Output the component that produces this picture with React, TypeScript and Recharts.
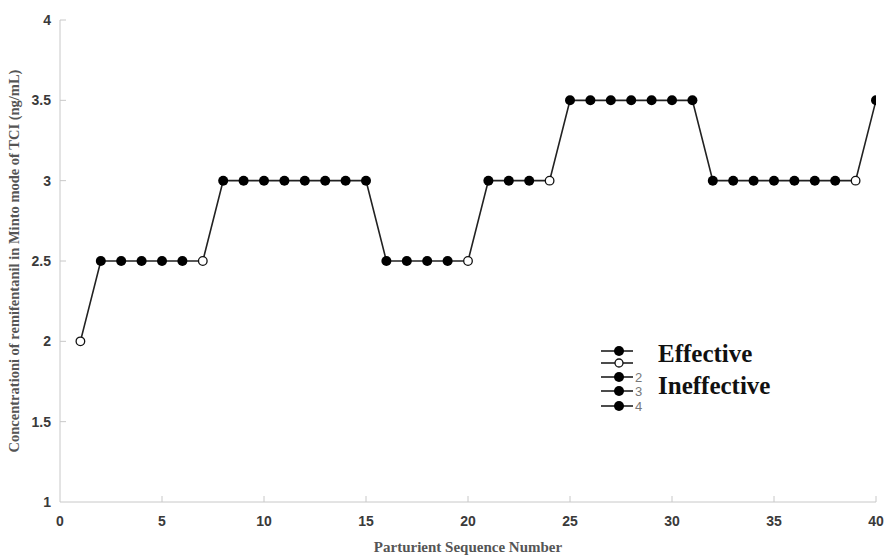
import React from "react";
import { LineChart, Line, XAxis, YAxis } from "recharts";

const sequence = [1,2,3,4,5,6,7,8,9,10,11,12,13,14,15,16,17,18,19,20,21,22,23,24,25,26,27,28,29,30,31,32,33,34,35,36,37,38,39,40];
const concentration = [2.0,2.5,2.5,2.5,2.5,2.5,2.5,3.0,3.0,3.0,3.0,3.0,3.0,3.0,3.0,2.5,2.5,2.5,2.5,2.5,3.0,3.0,3.0,3.0,3.5,3.5,3.5,3.5,3.5,3.5,3.5,3.0,3.0,3.0,3.0,3.0,3.0,3.0,3.0,3.5];
const effective = [false,true,true,true,true,true,false,true,true,true,true,true,true,true,true,true,true,true,true,false,true,true,true,false,true,true,true,true,true,true,true,true,true,true,true,true,true,true,false,true];
const xTicks = [0,5,10,15,20,25,30,35,40];
const yTicks = [1,1.5,2,2.5,3,3.5,4];
const legendLabels = ["Effective", "Ineffective"];
const legendExtra = ["", "", "2", "3", "4"];

const data = sequence.map((s, i) => ({ seq: s, conc: concentration[i], eff: effective[i] }));

const AXIS = "#c8c8c8";
const TICK_TXT = "#3a3a3a";

const XTick = (props: any) => {
  const { x, y, payload } = props;
  return (
    <g>
      {payload.value !== 0 && <line x1={x} y1={y} x2={x} y2={y - 6} stroke={AXIS} strokeWidth={1} />}
      <text x={x} y={y + 24} textAnchor="middle" fontFamily="'Liberation Sans', Arial, sans-serif" fontWeight="bold" fontSize={14} fill={TICK_TXT}>
        {payload.value}
      </text>
    </g>
  );
};

const YTick = (props: any) => {
  const { x, y, payload } = props;
  return (
    <g>
      {payload.value !== 1 && <line x1={x} y1={y} x2={x + 6} y2={y} stroke={AXIS} strokeWidth={1} />}
      <text x={x - 9} y={y + 5} textAnchor="end" fontFamily="'Liberation Sans', Arial, sans-serif" fontWeight="bold" fontSize={14} fill={TICK_TXT}>
        {payload.value}
      </text>
    </g>
  );
};

const Dot = (props: any) => {
  const { cx, cy, payload, index } = props;
  if (payload.eff) {
    return <circle key={`d${index}`} cx={cx} cy={cy} r={5} fill="#000" />;
  }
  return <circle key={`d${index}`} cx={cx} cy={cy} r={4.3} fill="#fff" stroke="#111" strokeWidth={1.3} />;
};

const LegendBox = () => {
  const rows = [351, 363, 377, 391, 406];
  const ox = 598;
  const oy = 338;
  return (
    <svg width={200} height={80} style={{ position: "absolute", left: ox, top: oy, display: "block" }}>
      {rows.map((ry, i) => {
        const y = ry - oy;
        const open = i === 1;
        return (
          <g key={i}>
            <line x1={601 - ox} x2={633 - ox} y1={y} y2={y} stroke="#111" strokeWidth={1.5} />
            {open ? (
              <circle cx={619 - ox} cy={y} r={4} fill="#fff" stroke="#111" strokeWidth={1.3} />
            ) : (
              <circle cx={619 - ox} cy={y} r={5} fill="#000" />
            )}
            {legendExtra[i] && (
              <text x={635 - ox} y={y + 5} fontFamily="'Liberation Sans', Arial, sans-serif" fontSize={13} fill="#777">
                {legendExtra[i]}
              </text>
            )}
          </g>
        );
      })}
      <text x={658 - ox} y={362 - oy} fontFamily="'Liberation Serif', 'Times New Roman', serif" fontWeight="bold" fontSize={25} fill="#111">
        {legendLabels[0]}
      </text>
      <text x={658 - ox} y={394 - oy} fontFamily="'Liberation Serif', 'Times New Roman', serif" fontWeight="bold" fontSize={25} fill="#111">
        {legendLabels[1]}
      </text>
    </svg>
  );
};

export default function App() {
  return (
    <div style={{ position: "absolute", left: 0, top: 0, width: 884, height: 556, background: "#fff" }}>
      <LineChart width={884} height={556} data={data} margin={{ top: 20, right: 8, bottom: 0, left: 0 }}>
        <XAxis
          dataKey="seq"
          type="number"
          domain={[0, 40]}
          ticks={xTicks}
          interval={0}
          axisLine={{ stroke: AXIS, strokeWidth: 1 }}
          tickLine={false}
          tickSize={0}
          tickMargin={0}
          tick={<XTick />}
          height={54}
          allowDataOverflow
          label={{
            value: "Parturient Sequence Number",
            position: "insideBottom",
            offset: 4,
            style: { fontFamily: "'Liberation Serif', 'Times New Roman', serif", fontWeight: "bold", fontSize: 15, fill: "#555" },
          }}
        />
        <YAxis
          type="number"
          domain={[1, 4]}
          ticks={yTicks}
          interval={0}
          width={60}
          axisLine={{ stroke: AXIS, strokeWidth: 1 }}
          tickLine={false}
          tickSize={0}
          tickMargin={0}
          tick={<YTick />}
          label={{
            value: "Concentrationi of remifentanil in Minto mode of TCI (ng/mL)",
            angle: -90,
            position: "insideLeft",
            offset: 14,
            style: { textAnchor: "middle", fontFamily: "'Liberation Serif', 'Times New Roman', serif", fontWeight: "bold", fontSize: 14.5, fill: "#555" },
          }}
        />
        <Line
          dataKey="conc"
          stroke="#222"
          strokeWidth={1.6}
          dot={Dot}
          activeDot={false}
          isAnimationActive={false}
        />
      </LineChart>
      <LegendBox />
    </div>
  );
}
